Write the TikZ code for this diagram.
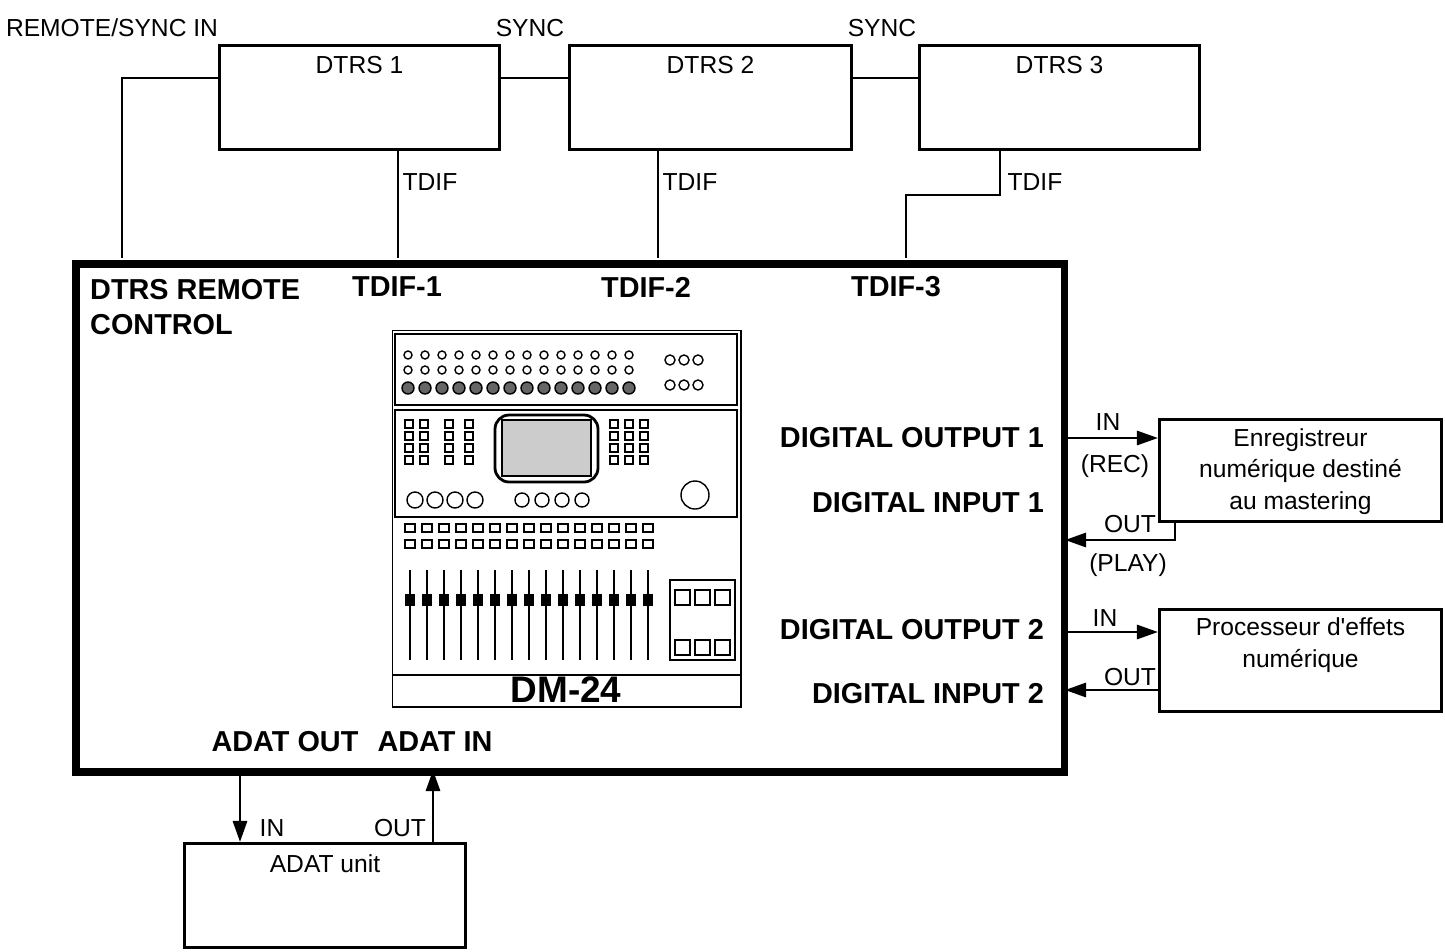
\documentclass[tikz,border=0pt]{standalone}
\usepackage{fontspec}
\setmainfont{Liberation Sans}
\usetikzlibrary{arrows.meta,positioning,calc}
\tikzset{
  unit/.style={draw, thick, anchor=north west, inner sep=0pt},
  lbl/.style={inner sep=1pt, font=\fontsize{7}{8}\selectfont},
  blbl/.style={inner sep=1pt, font=\fontsize{8.2}{10}\selectfont\bfseries},
  wire/.style={thick},
  sig/.style={thick, -{Triangle[length=6pt,width=4pt]}}
}
\begin{document}
\begin{tikzpicture}[x=0.01cm, y=-0.01cm]
  \useasboundingbox (0,0) rectangle (1445,951);

  % recorders
  \node[unit, minimum width=2.8cm, minimum height=1.04cm] (dtrs1) at (218,44) {};
  \node[unit, minimum width=2.82cm, minimum height=1.04cm] (dtrs2) at (568,44) {};
  \node[unit, minimum width=2.8cm, minimum height=1.04cm] (dtrs3) at (918,44) {};
  \foreach \i in {1,2,3}{
    \node[lbl] at ($(dtrs\i.north)+(0,21)$) {DTRS \i};
  }

  % main desk
  \node[draw, line width=2.2pt, anchor=north west, minimum width=9.88cm,
        minimum height=5.08cm, inner sep=0pt] (desk) at (72,260) {};

  % sync chain
  \coordinate (s1l) at (218,78);
  \coordinate (s1r) at (498,78);
  \coordinate (s2l) at (568,78);
  \coordinate (s2r) at (850,78);
  \coordinate (s3l) at (918,78);
  \draw[wire] (s1r) -- (s2l);
  \draw[wire] (s2r) -- (s3l);
  \draw[wire] (s1l) -- (122,78) -- (122,258);
  \node[lbl] (remsync) at (112,28) {REMOTE/SYNC IN};
  \node[lbl] (sync1) at (530,28) {SYNC};
  \node[lbl] (sync2) at (882,28) {SYNC};

  % tdif
  \draw[wire] (398,148) -- (398,258);
  \draw[wire] (658,148) -- (658,258);
  \draw[wire] (1000,148) -- (1000,195) -- (906,195) -- (906,258);
  \node[lbl] at (430,182) {TDIF};
  \node[lbl] at (690,182) {TDIF};
  \node[lbl] at (1035,182) {TDIF};

  \node[blbl, anchor=west, align=left] at (86,307) {DTRS REMOTE\\CONTROL};
  \node[blbl] at (397,287) {TDIF-1};
  \node[blbl] at (646,287) {TDIF-2};
  \node[blbl] at (896,287) {TDIF-3};

  % mixer picture
  \node[draw, anchor=north west, minimum width=3.48cm, minimum height=3.76cm,
        inner sep=0pt] (mixer) at (392,330) {};
  \draw (392,675) -- (740,675);
  \node[blbl, font=\fontsize{10.5}{12}\selectfont\bfseries] (dmlbl) at (566,690) {DM-24};
  \draw (395,334) rectangle (737,405);
  \foreach \i in {0,...,13}{
    \draw (408+\i*17,355) circle (4);
    \draw (408+\i*17,370) circle (4);
    \draw[fill=black!60] (408+\i*17,388) circle (6);
  }
  \foreach \i in {0,...,2}{
    \draw (670+\i*14,360) circle (5);
    \draw (670+\i*14,385) circle (5);
  }
  \draw (395,410) rectangle (737,517);
  \draw[thick, rounded corners=4pt] (495,415) rectangle (598,482);
  \draw[fill=black!20] (502,420) rectangle (591,476);
  \foreach \i in {0,...,3}{
    \draw (405,420+\i*12) rectangle (413,428+\i*12);
    \draw (420,420+\i*12) rectangle (428,428+\i*12);
    \draw (445,420+\i*12) rectangle (453,428+\i*12);
    \draw (465,420+\i*12) rectangle (473,428+\i*12);
    \draw (610,420+\i*12) rectangle (618,428+\i*12);
    \draw (625,420+\i*12) rectangle (633,428+\i*12);
    \draw (640,420+\i*12) rectangle (648,428+\i*12);
  }
  \foreach \i in {0,...,3}{
    \draw (415+\i*20,500) circle (8);
    \draw (522+\i*20,500) circle (7);
  }
  \draw (695,495) circle (14);
  \foreach \i in {0,...,14}{
    \draw (405+\i*17,524) rectangle (415+\i*17,532);
    \draw (405+\i*17,540) rectangle (415+\i*17,548);
    \draw (410+\i*17,570) -- (410+\i*17,660);
    \draw[fill=black] (406+\i*17,595) rectangle (414+\i*17,605);
  }
  \draw (670,580) rectangle (735,660);
  \foreach \i in {0,...,2}{
    \draw (675+\i*20,590) rectangle (690+\i*20,605);
    \draw (675+\i*20,640) rectangle (690+\i*20,655);
  }

  % digital i/o labels
  \node[blbl, anchor=east] (dout1) at (1048,438) {DIGITAL OUTPUT 1};
  \node[blbl, anchor=east] (din1) at (1048,503) {DIGITAL INPUT 1};
  \node[blbl, anchor=east] (dout2) at (1048,630) {DIGITAL OUTPUT 2};
  \node[blbl, anchor=east] (din2) at (1048,694) {DIGITAL INPUT 2};

  % mastering recorder
  \node[unit, minimum width=2.82cm, minimum height=1.02cm] (rec) at (1158,418) {};
  \node[lbl, align=center] at ($(rec.center)+(0,1)$)
    {Enregistreur\\[1pt]num\'erique destin\'e\\[1pt]au mastering};
  \coordinate (recin) at (1065,438);
  \draw[sig] (recin) -- (rec.west |- recin);
  \node[lbl] at (1108,422) {IN};
  \node[lbl] at (1115,466) {(REC)};
  \coordinate (recout) at (1175,520);
  \coordinate (recret) at (1065,540);
  \draw[sig] (recout) -- (recout |- recret) -- (recret);
  \node[lbl] at (1130,524) {OUT};
  \node[lbl] at (1128,565) {(PLAY)};

  % effects
  \node[unit, minimum width=2.82cm, minimum height=1.02cm] (fx) at (1158,608) {};
  \node[lbl, align=center] at ($(fx.center)+(0,-15)$)
    {Processeur d\textquotesingle effets\\[1pt]num\'erique};
  \coordinate (fxin) at (1065,632);
  \coordinate (fxout) at (1065,690);
  \draw[sig] (fxin) -- (fx.west |- fxin);
  \draw[sig] (fx.west |- fxout) -- (fxout);
  \node[lbl] at (1105,618) {IN};
  \node[lbl] at (1130,677) {OUT};

  % adat
  \node[blbl] at (285,742) {ADAT OUT};
  \node[blbl] at (435,742) {ADAT IN};
  \node[unit, minimum width=2.81cm, minimum height=1.04cm] (adat) at (183,842) {};
  \node[lbl] at ($(adat.north)+(0,22)$) {ADAT unit};
  \coordinate (aout) at (240,770);
  \coordinate (ain) at (433,770);
  \draw[sig] (aout) -- (aout |- adat.north);
  \draw[sig] (ain |- adat.north) -- (ain);
  \node[lbl] at (272,828) {IN};
  \node[lbl] at (400,828) {OUT};
\end{tikzpicture}
\end{document}
